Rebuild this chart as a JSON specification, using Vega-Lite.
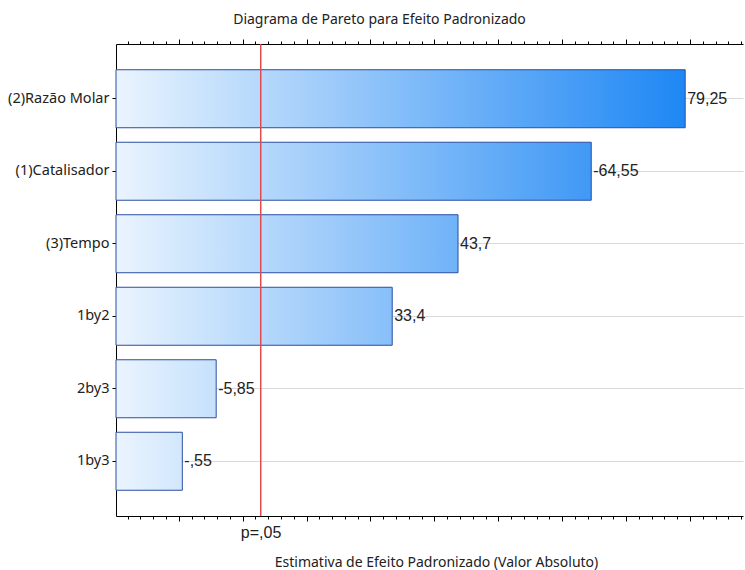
{
  "$schema": "https://vega.github.io/schema/vega-lite/v6.json",
  "width": 627,
  "height": 472,
  "autosize": "none",
  "padding": {"left": 116, "top": 44, "right": 2, "bottom": 54},
  "background": "white",
  "title": {"text": "Diagrama de Pareto para Efeito Padronizado", "font": "Noto Sans", "fontSize": 14, "fontWeight": "normal", "color": "#222", "anchor": "middle", "dx": -50, "offset": 12},
  "config": {"view": {"stroke": null}},
  "data": {"values": [
    {"term": "(2)Razão Molar", "v": 79.25, "label": "79,25"},
    {"term": "(1)Catalisador", "v": 64.55, "label": "-64,55"},
    {"term": "(3)Tempo", "v": 43.7, "label": "43,7"},
    {"term": "1by2", "v": 33.4, "label": "33,4"},
    {"term": "2by3", "v": 5.85, "label": "-5,85"},
    {"term": "1by3", "v": 0.55, "label": "-,55"}
  ]},
  "layer": [
    {
      "mark": {"type": "bar", "stroke": "#2a4ea2", "strokeWidth": 1},
      "encoding": {
        "y": {"field": "term", "type": "nominal", "sort": null,
          "scale": {"paddingInner": 0.2, "paddingOuter": 0.355},
          "axis": {"title": null, "grid": true, "gridColor": "#d9d9d9", "bandPosition": 0.5, "domainColor": "#000", "tickColor": "#000", "tickSize": 4, "labelFont": "Noto Sans", "labelFontSize": 14.5, "labelColor": "#222", "labelPadding": 3}},
        "x": {"field": "v", "type": "quantitative",
          "scale": {"domain": [-9.83, 88.3], "nice": false, "zero": false},
          "axis": {"orient": "bottom", "values": [-8,-6,-4,-2,0,2,4,6,8,10,12,12.8,14,16,18,20,22,24,26,28,30,32,34,36,38,40,42,44,46,48,50,52,54,56,58,60,62,64,66,68,70,72,74,76,78,80,82,84,86,88],
            "labelExpr": "datum.value == 12.8 ? 'p=,05' : ''", "labelOverlap": false, "labelBound": false,
            "labelFont": "Liberation Sans", "labelFontSize": 16, "labelColor": "#222", "labelPadding": 5,
            "domainColor": "#000", "tickColor": "#000",
            "tickSize": {"condition": {"test": "datum.value % 10 === 0", "value": 5}, "value": 3},
            "tickOpacity": {"condition": {"test": "datum.value == 12.8", "value": 0}, "value": 1},
            "grid": false,
            "title": "Estimativa de Efeito Padronizado (Valor Absoluto)", "titleFont": "Noto Sans", "titleFontSize": 14, "titleFontWeight": "normal", "titleColor": "#222", "titleX": 320, "titleY": 50, "titleBaseline": "alphabetic"}},
        "x2": {"datum": -9.83},
        "fill": {
          "condition": [
            {"test": "datum.term === '(1)Catalisador'", "value": {"gradient": "linear", "x1": 0, "y1": 0, "x2": 1.198, "y2": 0, "stops": [{"offset": 0, "color": "#eaf4fe"}, {"offset": 1, "color": "#1e87f4"}]}},
            {"test": "datum.term === '(3)Tempo'", "value": {"gradient": "linear", "x1": 0, "y1": 0, "x2": 1.664, "y2": 0, "stops": [{"offset": 0, "color": "#eaf4fe"}, {"offset": 1, "color": "#1e87f4"}]}},
            {"test": "datum.term === '1by2'", "value": {"gradient": "linear", "x1": 0, "y1": 0, "x2": 2.061, "y2": 0, "stops": [{"offset": 0, "color": "#eaf4fe"}, {"offset": 1, "color": "#1e87f4"}]}},
            {"test": "datum.term === '2by3'", "value": {"gradient": "linear", "x1": 0, "y1": 0, "x2": 5.68, "y2": 0, "stops": [{"offset": 0, "color": "#eaf4fe"}, {"offset": 1, "color": "#1e87f4"}]}},
            {"test": "datum.term === '1by3'", "value": {"gradient": "linear", "x1": 0, "y1": 0, "x2": 8.58, "y2": 0, "stops": [{"offset": 0, "color": "#eaf4fe"}, {"offset": 1, "color": "#1e87f4"}]}}
          ],
          "value": {"gradient": "linear", "x1": 0, "y1": 0, "x2": 1, "y2": 0, "stops": [{"offset": 0, "color": "#eaf4fe"}, {"offset": 1, "color": "#1e87f4"}]}
        }
      }
    },
    {
      "mark": {"type": "rule", "color": "#e04a4a", "strokeWidth": 1},
      "encoding": {"x": {"datum": 12.8, "axis": null}}
    },
    {
      "mark": {"type": "text", "align": "left", "baseline": "middle", "dx": 2, "font": "Liberation Sans", "fontSize": 16, "color": "#222"},
      "encoding": {
        "y": {"field": "term", "type": "nominal", "sort": null},
        "x": {"field": "v", "type": "quantitative",
          "axis": {"orient": "top", "values": [-8,-6,-4,-2,0,2,4,6,8,10,12,14,16,18,20,22,24,26,28,30,32,34,36,38,40,42,44,46,48,50,52,54,56,58,60,62,64,66,68,70,72,74,76,78,80,82,84,86,88],
            "labels": false, "title": null, "grid": false, "domainColor": "#000", "tickColor": "#000",
            "tickSize": {"condition": {"test": "datum.value % 10 === 0", "value": 5}, "value": 3}}},
        "text": {"field": "label"}
      }
    }
  ],
  "resolve": {"axis": {"x": "independent"}}
}
